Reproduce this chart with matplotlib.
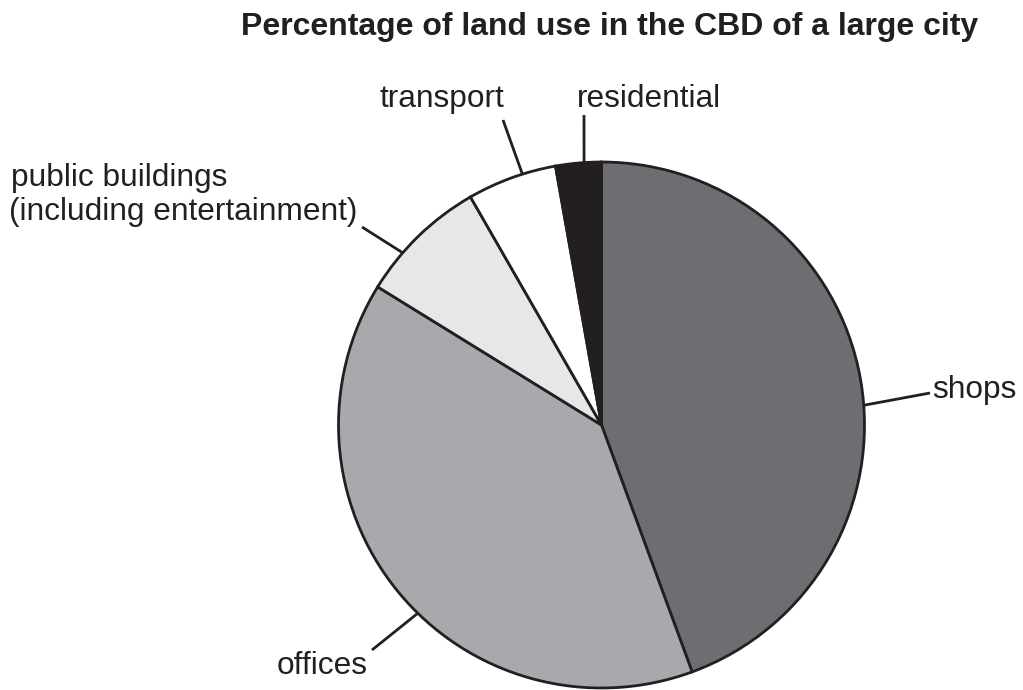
import numpy as np
import matplotlib
matplotlib.use("Agg")
import matplotlib.pyplot as plt

# Data (percent of land use, clockwise from 12 o'clock)
categories = ["shops", "offices", "public buildings", "transport", "residential"]
shares = [44.4, 39.4, 7.9, 5.5, 2.8]
colors = ["#6d6e71", "#a7a9ac", "#e6e7e8", "#ffffff", "#231f20"]

TITLE = "Percentage of land use in the CBD of a large city"
INK = "#231f20"

plt.rcParams["font.family"] = ["Liberation Sans", "DejaVu Sans"]

W, H = 1023, 690
fig = plt.figure(figsize=(W / 100, H / 100), dpi=100)
ax = fig.add_axes([0, 0, 1, 1])

# pie geometry in pixel units (y measured from top)
cx, cy, R = 601.5, 425, 263

def py(y):
    return H - y

ax.pie(shares, colors=colors, startangle=90, counterclock=False,
       center=(cx, py(cy)), radius=R,
       wedgeprops=dict(edgecolor=INK, linewidth=2.0))
ax.set_xlim(0, W)
ax.set_ylim(0, H)
ax.set_aspect("equal")
ax.axis("off")

# label layout: (text lines, baseline positions, leader start angle cw from top, leader end)
labels = [
    (["shops"], [(932, 398)], 85.7, (930, 393)),
    (["offices"], [(277, 674)], 224.3, (372, 650)),
    (["public buildings", "(including entertainment)"], [(11, 186), (9, 220)], 310.9, (362, 227)),
    (["transport"], [(380, 107)], 342.5, (503, 120)),
    (["residential"], [(577, 107)], 356.2, (584, 115)),
]

for lines, pos, ang, end in labels:
    a = np.deg2rad(ang)
    x0 = cx + R * np.sin(a)
    y0 = cy - R * np.cos(a)
    ax.plot([x0, end[0]], [py(y0), py(end[1])], color=INK, lw=2.0,
            solid_capstyle="butt")
    for txt, (tx, ty) in zip(lines, pos):
        ax.text(tx, py(ty), txt, fontsize=22.8, color=INK,
                ha="left", va="baseline")

ax.text(610, py(35), TITLE, fontsize=23, fontweight="bold", color=INK,
        ha="center", va="baseline")

fig.savefig("out.png", dpi=100)
